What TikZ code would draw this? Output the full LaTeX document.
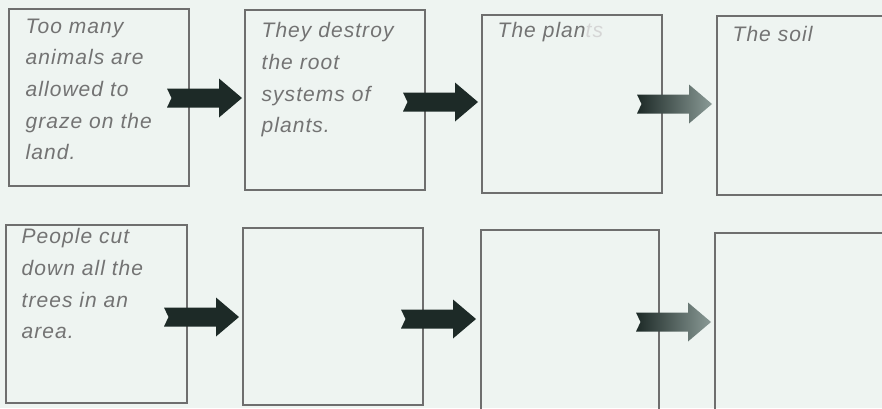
\documentclass[tikz,border=0pt]{standalone}
\usepackage{fontspec}
\setmainfont{Liberation Sans}[LetterSpace=5]
\begin{document}
\begin{tikzpicture}[x=1pt,y=-1pt,
  box/.style={draw=boxgray,line width=1.1pt,minimum width=180pt,minimum height=178pt,inner sep=0pt},
  words/.style={anchor=north west,align=left,text=textgray,font=\fontsize{21}{31.7}\selectfont\itshape,inner sep=0pt},
  fatarrow/.style={fill=arrowdark,draw=none},
  fadearrow/.style={left color=arrowdark,right color=arrowfade,draw=none}]
\definecolor{bg}{HTML}{EEF4F1}
\definecolor{boxgray}{HTML}{6E6E6E}
\definecolor{textgray}{HTML}{737373}
\definecolor{arrowdark}{HTML}{1D2A27}
\definecolor{arrowfade}{HTML}{8A9A96}
\useasboundingbox (0,0) rectangle (882,408);
\clip (0,0) rectangle (882,408);
\fill[bg] (0,0) rectangle (882,408);
\newcommand{\fatarr}[2]{%
  \path[#1,shift={(#2)}] (0,-9.5) -- (52,-9.5) -- (52,-19.5) -- (75,0) -- (52,19.5) -- (52,9.5) -- (0,9.5) -- (4.5,0) -- cycle;}
% boxes
\node[box,minimum height=177pt] (b1) at (99,97.5) {};
\node[box,minimum height=180pt] (b2) at (335,100) {};
\node[box] (b3) at (572,104) {};
\node[box,minimum height=179pt] (b4) at (807,105.5) {};
\node[box,minimum width=181pt] (b5) at (96.5,314) {};
\node[box,minimum height=177pt] (b6) at (333,316.5) {};
\node[box,minimum width=178pt,minimum height=180pt] (b7) at (570,320) {};
\node[box,minimum height=180pt] (b8) at (805,323) {};
% texts
\node[words] (t1) at ([xshift=17pt,yshift=-10pt]b1.north west) {Too many\\animals are\\allowed to\\graze on the\\land.};
\node[words] (t2) at ([xshift=17pt,yshift=-13pt]b2.north west) {They destroy\\the root\\systems of\\plants.};
\node[words] (t3) at ([xshift=16pt,yshift=-8pt]b3.north west) {The plan\textcolor{textgray!30}{ts}};
\node[words] (t4) at ([xshift=16pt,yshift=-11pt]b4.north west) {The soil};
\node[words] (t5) at ([xshift=16pt,yshift=-4pt]b5.north west) {People cut\\down all the\\trees in an\\area.};
% arrows
\coordinate (a1) at (167,98);
\coordinate (a2) at (403,102);
\coordinate (a3) at (637,104);
\coordinate (a4) at (164,317);
\coordinate (a5) at (401,319);
\coordinate (a6) at (636,322);
\fatarr{fatarrow}{a1}
\fatarr{fatarrow}{a2}
\fatarr{fadearrow}{a3}
\fatarr{fatarrow}{a4}
\fatarr{fatarrow}{a5}
\fatarr{fadearrow}{a6}
\end{tikzpicture}
\end{document}
